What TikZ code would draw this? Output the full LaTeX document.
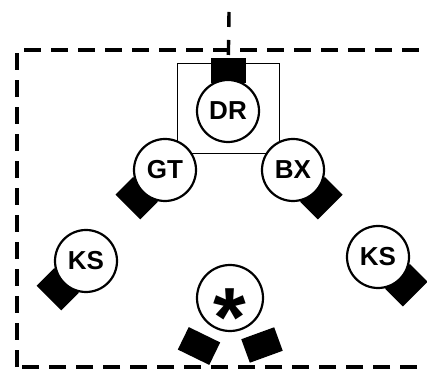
\documentclass[tikz,border=0pt]{standalone}
\usepackage{fontspec}
\setmainfont{Liberation Sans}
\usetikzlibrary{calc}
\tikzset{
  ring/.style={circle,draw,line width=2.2pt,minimum size=62pt,inner sep=0pt,
    fill=white,font=\fontsize{26}{30}\selectfont\bfseries},
  pad/.style={fill=black,minimum width=35pt,minimum height=25pt,inner sep=0pt},
  rahmen/.style={line width=3.4pt,dash pattern=on 17pt off 10pt},
}
\begin{document}
\begin{tikzpicture}[x=1pt,y=1pt]
\useasboundingbox (0,0) rectangle (427,371);
\def\ab{40}
\def\klotz#1#2#3{
\node[pad,rotate=#3+90] (#1) at ($(#2)+(#3:\ab)$) {};
}
\coordinate (cDR) at (228,260);
\coordinate (cGT) at (165,201);
\coordinate (cBX) at (293,201);
\coordinate (cKSa) at (86,110);
\coordinate (cKSb) at (378,114);
\coordinate (cST) at (230,73);
\coordinate (oben) at (229,359);
% outer frame and thin frame
\draw[rahmen] (17,4) rectangle (440,321);
\draw[line width=1pt] (177,217) rectangle (279,307);
% pads
\klotz{pDR}{cDR}{90}
\klotz{pGT}{cGT}{225}
\klotz{pBX}{cBX}{315}
\klotz{pKSa}{cKSa}{225}
\klotz{pKSb}{cKSb}{315}
\node[pad,rotate=-26] (pSTa) at ($(cST)+(-31,-48)$) {};
\node[pad,rotate=20] (pSTb) at ($(cST)+(32,-47)$) {};
\draw[line width=3.4pt,dash pattern=on 15pt off 13pt] (oben) -- (pDR.north);
% devices
\node[ring] (dr) at (cDR) {DR};
\node[ring] (gt) at (cGT) {GT};
\node[ring] (bx) at (cBX) {BX};
\node[ring] (ksa) at (cKSa) {KS};
\node[ring] (ksb) at (cKSb) {KS};
\node[ring,minimum size=66pt] (st) at (cST) {};
\node[font=\fontsize{84}{84}\selectfont\bfseries,anchor=base,inner sep=0pt]
  (stern) at ($(cST)+(0,-49)$) {*};
\end{tikzpicture}
\end{document}
